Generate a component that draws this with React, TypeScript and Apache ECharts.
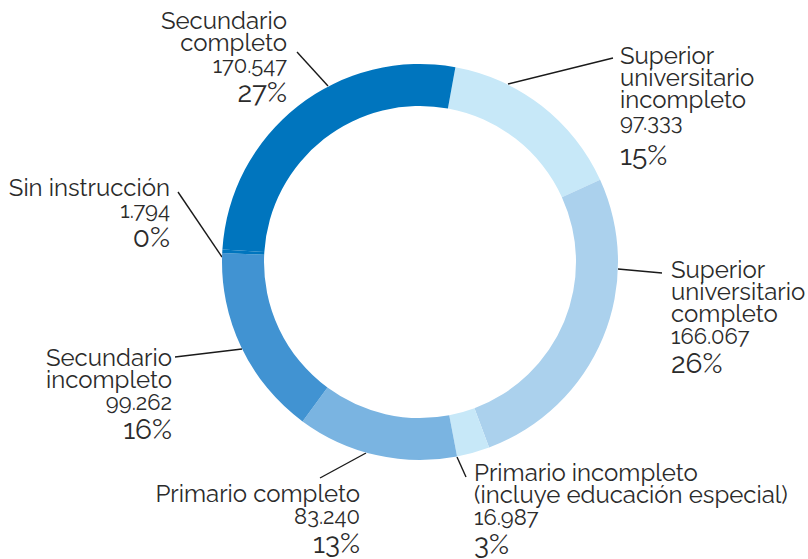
import React, { useEffect, useRef } from "react";
import * as echarts from "echarts";

// ---- data (clockwise order as drawn) ----
const categories = [
  "Superior universitario incompleto",
  "Superior universitario completo",
  "Primario incompleto (incluye educación especial)",
  "Primario completo",
  "Secundario incompleto",
  "Sin instrucción",
  "Secundario completo",
];
const values = [97333, 166067, 16987, 83240, 99262, 1794, 170547];
const percentLabels = ["15%", "26%", "3%", "13%", "16%", "0%", "27%"];

// ---- presentation ----
const colors = ["#C7E8F8", "#ABD1ED", "#C7E8F8", "#7AB4E1", "#4193D2", "#0075BE", "#0075BE"];
const nameLines: Record<string, string[]> = {
  "Superior universitario incompleto": ["Superior", "universitario", "incompleto"],
  "Superior universitario completo": ["Superior", "universitario", "completo"],
  "Primario incompleto (incluye educación especial)": ["Primario incompleto", "(incluye educación especial)"],
  "Primario completo": ["Primario completo"],
  "Secundario incompleto": ["Secundario", "incompleto"],
  "Sin instrucción": ["Sin instrucción"],
  "Secundario completo": ["Secundario", "completo"],
};
const labelPos = [
  { x: 620, y: 44, align: "left", pct: "pl", line: [[508, 84], [613, 58]] },
  { x: 671, y: 258, align: "left", pct: "p", line: [[618, 269], [662, 273]] },
  { x: 474, y: 461, align: "left", pct: "p", line: [[457, 457], [466, 477]] },
  { x: 360, y: 482, align: "right", pct: "p", line: [[366, 453], [320, 478]] },
  { x: 172, y: 346, align: "right", pct: "p", line: [[242, 349], [175, 357]] },
  { x: 170, y: 176, align: "right", pct: "p", line: [[222, 257], [178, 192]] },
  { x: 287, y: 9, align: "right", pct: "p", line: [[328, 86], [297, 52]] },
];

const fmt = (v: number) => String(v).replace(/\B(?=(\d{3})+(?!\d))/g, ".");
const FONT = "Raleway, Lato, 'Open Sans', sans-serif";
const TXT = "#2b2b2b";

export default function App() {
  const ref = useRef<HTMLDivElement>(null);
  useEffect(() => {
    if (!ref.current) return;
    const chart = echarts.init(ref.current, undefined, { renderer: "svg" });
    chart.setOption({
      animation: false,
      backgroundColor: "#ffffff",
      series: [
        {
          type: "pie",
          center: [420, 262],
          radius: [156, 198],
          startAngle: 79.7,
          clockwise: true,
          silent: true,
          avoidLabelOverlap: false,
          emphasis: { disabled: true },
          data: categories.map((c, i) => ({
            name: c,
            value: values[i],
            itemStyle: { color: colors[i] },
            label: { align: labelPos[i].align },
          })),
          label: {
            show: true,
            position: "outside",
            alignTo: "none",
            fontFamily: FONT,
            color: TXT,
            formatter: (p: any) => {
              const lines = (nameLines[p.name] || [p.name]).map((l) => `{n|${l}}`).join("\n");
              const key = labelPos[p.dataIndex].pct;
              return `${lines}\n{v|${fmt(p.value)}}\n{${key}|${percentLabels[p.dataIndex]}}`;
            },
            rich: {
              n: { fontFamily: FONT, fontSize: 24, lineHeight: 22, color: TXT, fontWeight: 400 },
              v: { fontFamily: FONT, fontSize: 22, lineHeight: 24, color: TXT, fontWeight: 400 },
              p: { fontFamily: FONT, fontSize: 28, lineHeight: 30, color: TXT, fontWeight: 400 },
              pl: { fontFamily: FONT, fontSize: 28, lineHeight: 42, color: TXT, fontWeight: 400 },
            },
          },
          labelLine: {
            show: true,
            length: 10,
            length2: 10,
            smooth: false,
            lineStyle: { color: "#1a1a1a", width: 1.4 },
          },
          labelLayout: (params: any) => {
            const lp = labelPos[params.dataIndex];
            return {
              x: lp.x,
              y: lp.y,
              align: lp.align,
              verticalAlign: "top",
              labelLinePoints: [lp.line[0], lp.line[0], lp.line[1]],
            };
          },
        },
      ],
    });
    return () => chart.dispose();
  }, []);
  return (
    <div
      ref={ref}
      style={{ position: "absolute", left: 0, top: 0, width: 808, height: 559 }}
    />
  );
}
